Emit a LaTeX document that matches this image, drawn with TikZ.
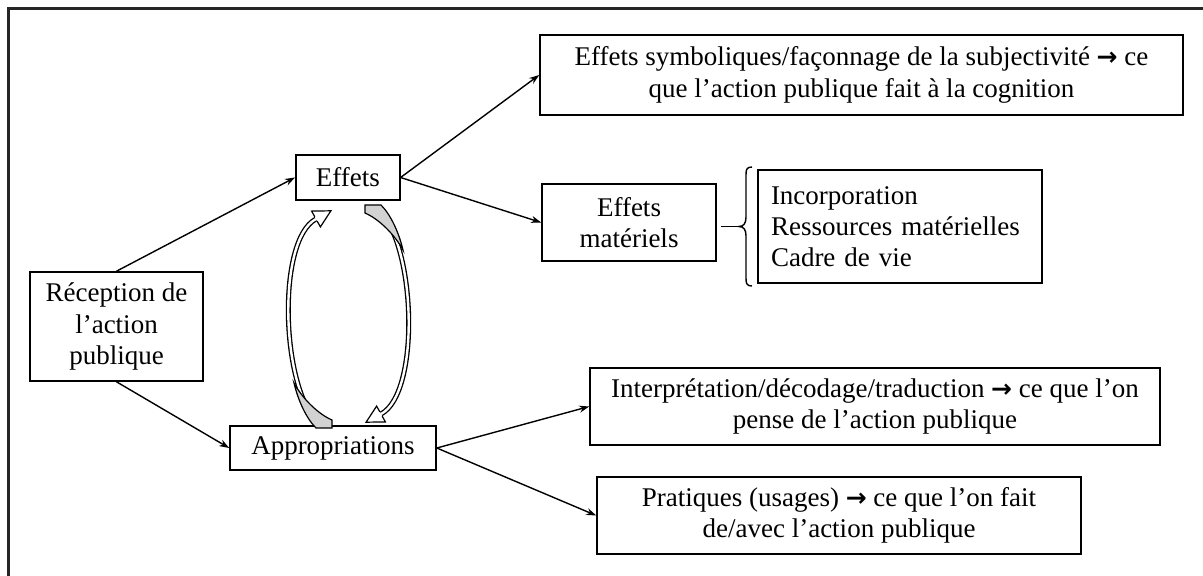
\documentclass[tikz,border=0pt]{standalone}
\usepackage{fontspec}
\setmainfont{Liberation Serif}
\newfontfamily\dejavu{DejaVu Sans}
\usetikzlibrary{arrows.meta}
\newcommand{\myarr}{{\dejavu\bfseries\fontsize{25}{30}\selectfont →}}
\begin{document}
\begin{tikzpicture}[x=1pt,y=-1pt,
  box/.style={draw, line width=1.6pt, align=center, inner sep=0pt,
    font=\fontsize{27}{31.3}\selectfont},
  conn/.style={line width=1.4pt, -{Stealth[length=10pt,width=7pt]}},
  band/.style={line width=5pt},
  bandin/.style={line width=2.4pt, white},
  head/.style={fill=white, draw, line width=1.2pt, line join=miter},
  wedge/.style={fill=gray!35, draw, line width=1.2pt}]
\useasboundingbox (0,0) rectangle (1203,576);
% frame (left and top edges)
\draw[line width=2.6pt, black!85] (8.5,576) -- (8.5,8.5) -- (1203,8.5);

\node[box, minimum width=173pt, minimum height=109pt] (rec) at (116.5,326.5)
  {Réception de\\l’action\\publique};
\node[box, minimum width=104pt, minimum height=45pt] (eff) at (347.8,177.5) {Effets};
\node[box, minimum width=206pt, minimum height=44pt] (app) at (333,448) {Appropriations};
\node[box, minimum width=643pt, minimum height=80pt] (sym) at (861.5,75)
  {Effets symboliques/façonnage de la subjectivité \myarr{} ce\\que l’action publique fait à la cognition};
\node[box, minimum width=174pt, minimum height=77pt] (mat) at (629,222.5)
  {Effets\\matériels};
\node[box, text width=258pt, align=left, inner xsep=13pt, minimum height=113pt] (list) at (900,226.5)
  {Incorporation\\Ressources matérielles\\Cadre de vie};
\node[box, minimum width=570pt, minimum height=77pt] (int) at (875,406.5)
  {Interprétation/décodage/traduction \myarr{} ce que l’on\\pense de l’action publique};
\node[box, minimum width=484pt, minimum height=77pt] (pra) at (839,515.5)
  {Pratiques (usages) \myarr{} ce que l’on fait\\de/avec l’action publique};

% connectors
\draw[conn] (rec.north) -- (eff.west);
\draw[conn] (rec.south) -- (app.west);
\draw[conn] (eff.east) -- (sym.west);
\draw[conn] (eff.east) -- (mat.west);
\draw[conn] (app.east) -- (int.west);
\draw[conn] (app.east) -- (pra.west);

% brace
\coordinate (btip) at (739,226.5);
\draw[line width=1.4pt] ([xshift=4pt]mat.east |- btip) -- (btip);
\draw[line width=1.4pt]
  (752,167) .. controls (746,167) and (746,170) .. (746,176) -- (746,217)
  .. controls (746,223) and (744,226.5) .. (btip)
  .. controls (744,226.5) and (746,230) .. (746,236) -- (746,277)
  .. controls (746,283) and (746,286) .. (752,286);

% curved block arrows (cycle)
\newcommand{\cyclearrow}{%
  \draw[band] (320,425) .. controls (281,392) and (276,240) .. (316,219);
  \draw[bandin] (320,425) .. controls (281,392) and (276,240) .. (316,219);
  \draw[wedge] (316,428) .. controls (306,418) and (298,400) .. (294,383)
     .. controls (302,398) and (318,414) .. (332,420) -- (332,428) -- cycle;
  \filldraw[head] (314.8,216.8) -- (311.6,211.1) -- (330.9,210.8) -- (320.4,226.9) -- (317.2,221.2);
}
\cyclearrow
\begin{scope}[rotate around={180:(348.5,316.5)}]
\cyclearrow
\end{scope}
\end{tikzpicture}
\end{document}
